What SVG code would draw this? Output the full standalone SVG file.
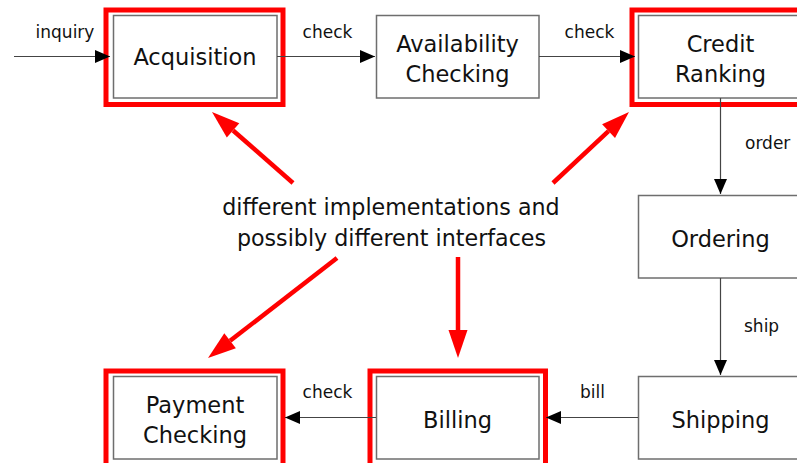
<svg xmlns="http://www.w3.org/2000/svg" width="797" height="463" viewBox="0 0 797 463">
  <defs>
    <marker id="head" markerUnits="userSpaceOnUse" markerWidth="16" markerHeight="13" refX="15" refY="6.5" orient="auto">
      <path d="M0,0 L15,6.5 L0,13 z" fill="#000"/>
    </marker>
  </defs>
  <style>
    .box { fill: #fff; stroke: #6e6e6e; stroke-width: 1.5; }
    .hl { fill: none; stroke: #ff0000; stroke-width: 5; }
    .name { font-family: "DejaVu Sans", sans-serif; font-size: 22.5px; fill: #111; text-anchor: middle; }
    .edge { font-family: "DejaVu Sans", sans-serif; font-size: 17px; fill: #111; }
    .mid { text-anchor: middle; }
    .flow { fill: none; stroke: #444; stroke-width: 1.2; marker-end: url(#head); }
    .note { font-family: "DejaVu Sans", sans-serif; font-size: 22.2px; fill: #111; text-anchor: middle; }
    .red { fill: none; stroke: #ff0000; stroke-width: 4.5; }
    .redhead { fill: #ff0000; }
  </style>
  <rect width="797" height="463" fill="#fff"/>

  <!-- process steps -->
  <g id="acquisition">
    <rect class="box" x="113.5" y="15.5" width="163.5" height="82.5"/>
    <text class="name" x="195" y="65">Acquisition</text>
  </g>
  <g id="availability-checking">
    <rect class="box" x="376.5" y="15.5" width="162.5" height="82.5"/>
    <text class="name" x="457.5" y="52">Availability</text>
    <text class="name" x="457.5" y="82">Checking</text>
  </g>
  <g id="credit-ranking">
    <rect class="box" x="638.5" y="15.5" width="164" height="82.5"/>
    <text class="name" x="720.5" y="52">Credit</text>
    <text class="name" x="720.5" y="82">Ranking</text>
  </g>
  <g id="ordering">
    <rect class="box" x="638.5" y="195.5" width="164" height="82.5"/>
    <text class="name" x="720.5" y="246.5">Ordering</text>
  </g>
  <g id="shipping">
    <rect class="box" x="638.5" y="376.5" width="164" height="82.5"/>
    <text class="name" x="720.5" y="428">Shipping</text>
  </g>
  <g id="billing">
    <rect class="box" x="376.5" y="376.5" width="162.5" height="82.5"/>
    <text class="name" x="457.5" y="428">Billing</text>
  </g>
  <g id="payment-checking">
    <rect class="box" x="113.5" y="376.5" width="163.5" height="82.5"/>
    <text class="name" x="195" y="413">Payment</text>
    <text class="name" x="195" y="443">Checking</text>
  </g>

  <!-- red frames round the replaceable steps -->
  <g id="highlights">
    <rect class="hl" x="106" y="10" width="177" height="94.5"/>
    <rect class="hl" x="632" y="10" width="180" height="94.5"/>
    <rect class="hl" x="106" y="371" width="177" height="100"/>
    <rect class="hl" x="370" y="371" width="175.5" height="100"/>
  </g>

  <!-- flow between the steps -->
  <g id="connectors">
    <path class="flow" d="M14,56.5 H110"/>
    <path class="flow" d="M277,56.5 H375"/>
    <path class="flow" d="M539,56.5 H635"/>
    <path class="flow" d="M720.5,98 V194"/>
    <path class="flow" d="M720.5,278 V375"/>
    <path class="flow" d="M638,417.5 H546"/>
    <path class="flow" d="M376,417.5 H285"/>
  </g>

  <g id="edge-labels">
    <text class="edge mid" x="65" y="38">inquiry</text>
    <text class="edge mid" x="327.5" y="38">check</text>
    <text class="edge mid" x="589.5" y="38">check</text>
    <text class="edge" x="745" y="149">order</text>
    <text class="edge" x="744" y="332">ship</text>
    <text class="edge mid" x="592.5" y="398">bill</text>
    <text class="edge mid" x="327.5" y="398">check</text>
  </g>

  <!-- annotation with pointers to the highlighted steps -->
  <g id="annotation">
    <text class="note" x="391" y="215">different implementations and</text>
    <text class="note" x="391.5" y="246">possibly different interfaces</text>
    <line class="red" x1="293" y1="183" x2="233.1" y2="130.5"/>
    <polygon class="redhead" points="212,112 239.3,123.3 226.8,137.6"/>
    <line class="red" x1="553" y1="183" x2="608.5" y2="131.1"/>
    <polygon class="redhead" points="629,112 615,138.1 602.1,124.2"/>
    <line class="red" x1="337" y1="258" x2="230.1" y2="340.8"/>
    <polygon class="redhead" points="208,358 224.3,333.3 235.9,348.3"/>
    <line class="red" x1="458" y1="257" x2="458" y2="331"/>
    <polygon class="redhead" points="458,358 448.5,330 467.5,330"/>
  </g>
</svg>
